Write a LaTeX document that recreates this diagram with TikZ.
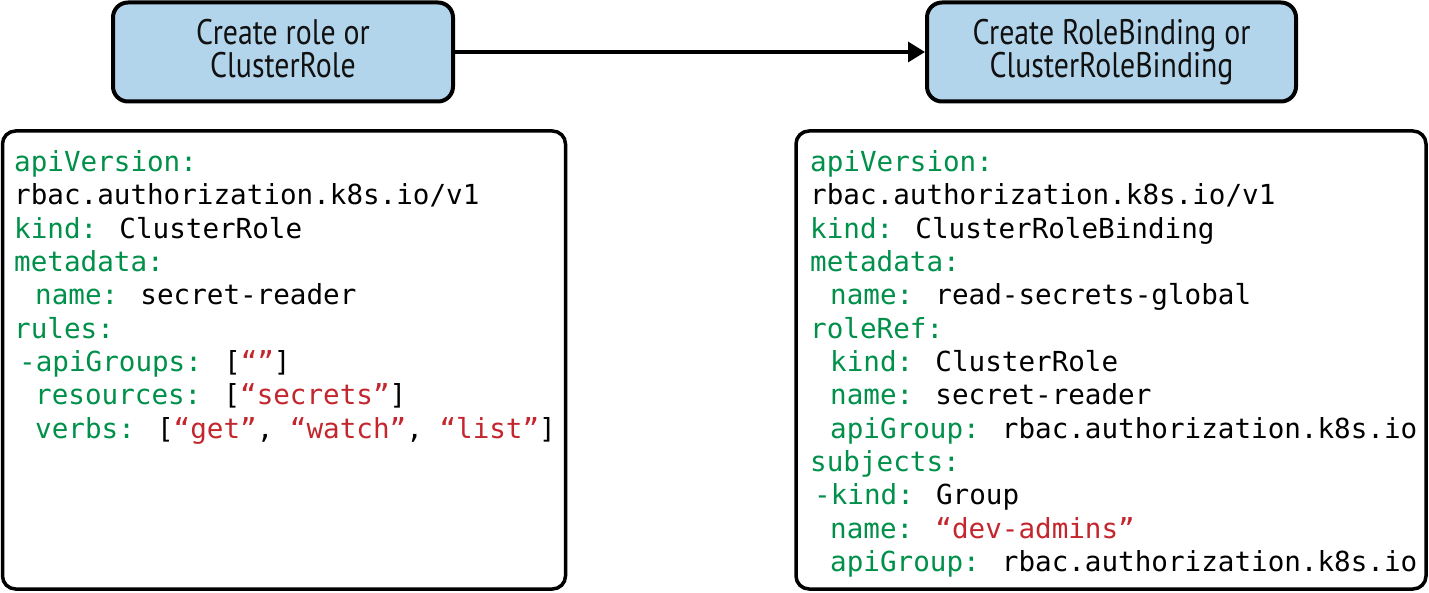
\documentclass[tikz,border=0pt]{standalone}
\usepackage{fontspec}
\usetikzlibrary{arrows.meta}
\newfontfamily\codefont{DejaVu Sans Mono}
\newfontfamily\titlefont[FakeStretch=0.84]{PT Sans}
\definecolor{kgreen}{HTML}{00904A}
\definecolor{kred}{HTML}{C4262E}
\definecolor{kblue}{HTML}{B3D5EB}
\definecolor{kink}{HTML}{111111}
\newcommand{\kg}[1]{\textcolor{kgreen}{#1}}
\newcommand{\kr}[1]{\textcolor{kred}{#1}}
\newcommand{\topstrut}{\rule{0pt}{27pt}}
\newcommand{\botstrut}{\rule[-8pt]{0pt}{8pt}}
\begin{document}
\begin{tikzpicture}[x=1pt,y=-1pt,
  titlebox/.style={draw=black, line width=4pt, fill=kblue, rounded corners=15pt,
    minimum height=99pt, align=center, inner sep=0pt, text=kink,
    font={\titlefont\fontsize{35.5}{33}\selectfont}},
  codebox/.style={draw=black, line width=3.5pt, rounded corners=13pt, inner sep=0pt},
  codeline/.style={anchor=base west, inner sep=0pt, text=black,
    font={\codefont\fontsize{27.6}{33.3}\selectfont}},
  flow/.style={line width=3.3pt, -{Triangle[length=17pt,width=20pt]}}]
\useasboundingbox (0,0) rectangle (1429,593);

% title boxes
\node[titlebox, minimum width=340pt] (b1) at (283,52)
  {\topstrut Create role or\\ClusterRole\botstrut};
\node[titlebox, minimum width=369pt] (b2) at (1111.5,52)
  {\topstrut Create RoleBinding or\\ClusterRoleBinding\botstrut};
\draw[flow] (b1.east) -- (b2.west);

% code boxes
\node[codebox, minimum width=563pt, minimum height=458pt] (cl) at (284,360) {};
\node[codebox, minimum width=630pt, minimum height=458pt] (cr) at (1111,360) {};

% left code
\node[codeline] (l0) at (14,171.7) {\kg{apiVersion:}};
\node[codeline] (l1) at (14,205.0) {rbac.authorization.k8s.io/v1};
\node[codeline] (l2) at (14,238.3) {\kg{kind:} ClusterRole};
\node[codeline] (l3) at (14,271.6) {\kg{metadata:}};
\node[codeline] (l4) at (35,304.9) {\kg{name:} secret-reader};
\node[codeline] (l5) at (14,338.2) {\kg{rules:}};
\node[codeline] (l6) at (19,371.5) {\kg{-apiGroups:} [\kr{“”}]};
\node[codeline] (l7) at (35,404.8) {\kg{resources:} [\kr{“secrets”}]};
\node[codeline] (l8) at (35,438.1) {\kg{verbs:} [\kr{“get”}, \kr{“watch”}, \kr{“list”}]};

% right code
\node[codeline] (r0) at (810,171.7) {\kg{apiVersion:}};
\node[codeline] (r1) at (810,205.0) {rbac.authorization.k8s.io/v1};
\node[codeline] (r2) at (810,238.3) {\kg{kind:} ClusterRoleBinding};
\node[codeline] (r3) at (810,271.6) {\kg{metadata:}};
\node[codeline] (r4) at (830,304.9) {\kg{name:} read-secrets-global};
\node[codeline] (r5) at (810,338.2) {\kg{roleRef:}};
\node[codeline] (r6) at (830,371.5) {\kg{kind:} ClusterRole};
\node[codeline] (r7) at (830,404.8) {\kg{name:} secret-reader};
\node[codeline] (r8) at (830,438.1) {\kg{apiGroup:} rbac.authorization.k8s.io};
\node[codeline] (r9) at (810,471.4) {\kg{subjects:}};
\node[codeline] (r10) at (814,504.7) {\kg{-kind:} Group};
\node[codeline] (r11) at (830,538.0) {\kg{name:} \kr{“dev-admins”}};
\node[codeline] (r12) at (830,571.3) {\kg{apiGroup:} rbac.authorization.k8s.io};
\end{tikzpicture}
\end{document}
